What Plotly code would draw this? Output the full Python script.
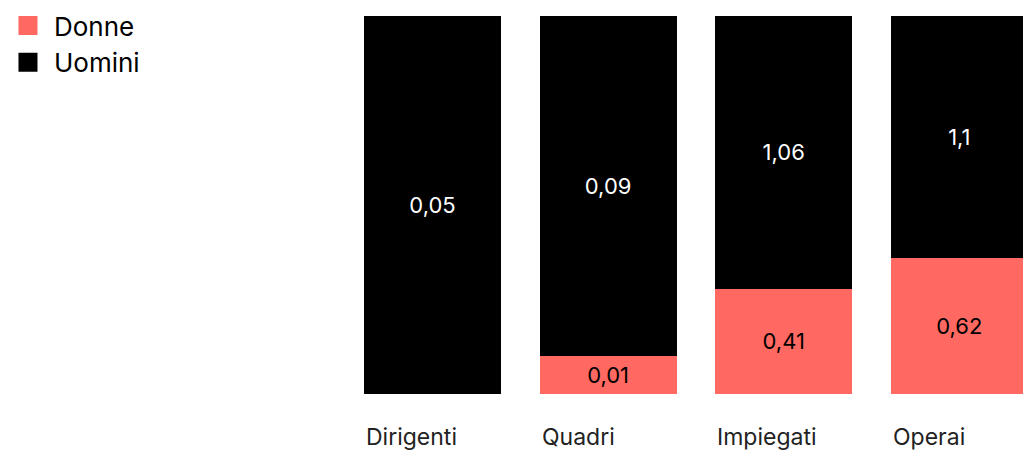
import plotly.graph_objects as go

categories = ["Dirigenti", "Quadri", "Impiegati", "Operai"]
donne = [0, 0.01, 0.41, 0.62]
uomini = [0.05, 0.09, 1.06, 1.1]

def fmt(v):
    return "" if v == 0 else (f"{v:g}").replace(".", ",")

FONT = "Inter"
SALMON = "#ff6961"
BAR_W = 0.78

fig = go.Figure()
fig.add_bar(x=categories, y=donne, name="Donne", marker=dict(color=SALMON, line=dict(width=0)),
            text=[fmt(v) for v in donne], textposition="inside", insidetextanchor="middle",
            textfont=dict(color="black", size=22, family=FONT), width=BAR_W, showlegend=False,
            hoverinfo="skip")
fig.add_bar(x=categories, y=uomini, name="Uomini", marker=dict(color="black", line=dict(width=0)),
            text=[fmt(v) for v in uomini], textposition="inside", insidetextanchor="middle",
            textfont=dict(color="white", size=22, family=FONT), width=BAR_W, showlegend=False,
            hoverinfo="skip")

# legend entries
for name, col in [("Donne", SALMON), ("Uomini", "black")]:
    fig.add_scatter(x=[None], y=[None], mode="markers", name=name, legendgroup=name,
                    marker=dict(symbol="square", size=16, color=col, line=dict(color=col, width=3)))

STEP = 175.6
for c in categories:
    fig.add_annotation(x=c, y=0, xref="x", yref="y", text=c, showarrow=False,
                       xanchor="left", yanchor="middle", xshift=-BAR_W * STEP / 2, yshift=-43,
                       font=dict(family=FONT, size=23, color="#222"))

fig.update_layout(
    width=1023, height=450,
    margin=dict(l=340, r=0, t=16, b=56, autoexpand=False),
    barmode="stack", barnorm="percent",
    plot_bgcolor="white", paper_bgcolor="white",
    font=dict(family=FONT, size=20, color="black"),
    showlegend=True,
    legend=dict(x=-0.4949, y=1.037, xanchor="left", yanchor="top",
                font=dict(family=FONT, size=26, color="black"), tracegroupgap=8,
                itemwidth=42, traceorder="normal", bgcolor="rgba(0,0,0,0)"),
    xaxis=dict(range=[-0.5268, 3.3627], showticklabels=False, showgrid=False, zeroline=False,
               showline=False, ticks=""),
    yaxis=dict(range=[0, 100], visible=False),
)

fig.write_html("out.html", config={"displayModeBar": False},
               post_script="document.body.style.margin='0px';")
